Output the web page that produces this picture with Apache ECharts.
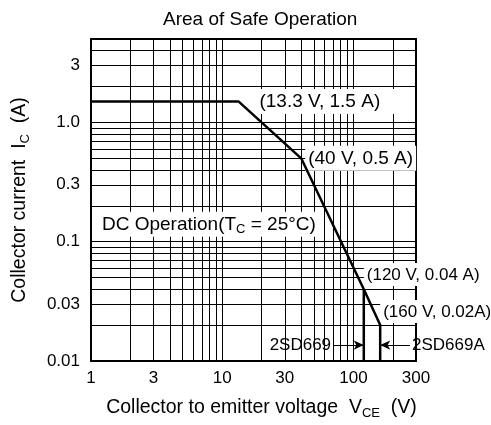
<!DOCTYPE html>
<html>
<head>
<meta charset="utf-8">
<script src="https://cdn.jsdelivr.net/npm/echarts@6/dist/echarts.min.js"></script>
<style>
  html, body { margin: 0; padding: 0; background: #fff; }
  #main { width: 491px; height: 425px; }
</style>
</head>
<body>
<div id="main"></div>
<script>
// SOA curve (DC, Tc = 25°C)
const voltage = [1, 13.3, 40, 120, 160, 160];
const current = [1.5, 1.5, 0.5, 0.04, 0.02, 0.01];
// 2SD669 limit at 120 V
const limitVoltage = [120, 120];
const limitCurrent = [0.04, 0.01];

// grid lines / labels
const xGridTicks = [1, 2, 3, 4, 5, 6, 7, 8, 9, 10, 20, 30, 40, 50, 60, 70, 80, 90, 100, 200, 300];
const yGridTicks = [0.01, 0.02, 0.03, 0.04, 0.05, 0.06, 0.07, 0.08, 0.09,
  0.1, 0.2, 0.3, 0.4, 0.5, 0.6, 0.7, 0.8, 0.9, 1, 2, 3, 4, 5];
const xLabels = [1, 3, 10, 30, 100, 300];
const yLabels = [0.01, 0.03, 0.1, 0.3, 1, 3];

const font = 'Liberation Sans, Arial, Helvetica, sans-serif';
const subStyle = { fontFamily: font, fontSize: 13, lineHeight: 13, verticalAlign: 'bottom' };

let myChart = echarts.init(document.getElementById('main'), null, { renderer: 'canvas' });

myChart.setOption({
  animation: false,
  backgroundColor: '#fff',
  textStyle: { fontFamily: font, color: '#000' },
  title: {
    text: 'Area of Safe Operation',
    left: 158,
    top: 5,
    textStyle: { fontFamily: font, fontSize: 19, fontWeight: 'normal', color: '#000' }
  },
  grid: {
    left: 90,
    right: 75,
    top: 39,
    bottom: 64,
    show: true,
    borderColor: '#000',
    borderWidth: 2
  },
  xAxis: {
    type: 'log',
    min: 1,
    max: 300,
    name: 'Collector to emitter voltage  V{sub|CE}  (V)',
    nameLocation: 'middle',
    nameGap: 35,
    nameTextStyle: {
      fontFamily: font, fontSize: 19.5, color: '#000', lineHeight: 24, padding: [0, 0, 0, 16],
      rich: { sub: subStyle }
    },
    axisLine: { show: false },
    axisTick: { show: false, customValues: xGridTicks },
    axisLabel: {
      customValues: xLabels,
      margin: 9,
      fontFamily: font, fontSize: 17, color: '#000',
      formatter: v => String(v)
    },
    splitLine: { show: true, lineStyle: { color: '#000', width: 1 } },
    minorSplitLine: { show: false }
  },
  yAxis: {
    type: 'log',
    min: 0.01,
    max: 5,
    name: 'Collector current  I{sub|C}  (A)',
    nameLocation: 'middle',
    nameGap: 59,
    nameTextStyle: {
      fontFamily: font, fontSize: 19.5, color: '#000', lineHeight: 24,
      rich: { sub: subStyle }
    },
    axisLine: { show: false },
    axisTick: { show: false, customValues: yGridTicks },
    axisLabel: {
      customValues: yLabels,
      margin: 11,
      fontFamily: font, fontSize: 17, color: '#000',
      formatter: v => (v === 1 ? '1.0' : String(v))
    },
    splitLine: { show: true, lineStyle: { color: '#000', width: 1 } },
    minorSplitLine: { show: false }
  },
  series: [
    {
      name: 'DC Operation',
      type: 'line',
      data: voltage.map((v, i) => [v, current[i]]),
      showSymbol: false,
      symbol: 'none',
      lineStyle: { color: '#000', width: 2.5 },
      z: 5,
      markPoint: {
        symbol: 'circle',
        symbolSize: 0,
        silent: true,
        label: {
          show: true,
          position: 'right',
          distance: 0,
          formatter: '{b}',
          fontFamily: font,
          fontSize: 19,
          color: '#000',
          backgroundColor: '#fff',
          padding: [2, 3, 1, 3],
          lineHeight: 22,
          rich: { sub: subStyle }
        },
        data: [
          { name: '(13.3 V, 1.5 A)', coord: [13.3, 1.5], label: { distance: 18, padding: [2, 16, 1, 3] } },
          { name: '(40 V, 0.5 A)', coord: [40, 0.5], label: { distance: 4 } },
          { name: 'DC Operation(T{sub|C} = 25°C)', coord: [1.15, 0.14] },
          { name: '(120 V, 0.04 A)', coord: [120, 0.053], label: { fontSize: 17, lineHeight: 20 } },
          { name: '(160 V, 0.02A)', coord: [160, 0.026], label: { fontSize: 17, lineHeight: 20 } }
        ]
      }
    },
    {
      name: '2SD669',
      type: 'line',
      data: limitVoltage.map((v, i) => [v, limitCurrent[i]]),
      showSymbol: false,
      symbol: 'none',
      lineStyle: { color: '#000', width: 2.5 },
      z: 5,
      markLine: {
        silent: true,
        symbol: ['none', 'arrow'],
        symbolSize: [7, 10],
        lineStyle: { color: '#000', width: 1, type: 'solid' },
        label: {
          show: true,
          position: 'start',
          distance: 2,
          formatter: '{b}',
          fontFamily: font,
          fontSize: 17,
          color: '#000'
        },
        data: [
          [{ name: '2SD669', coord: [70, 0.0136] }, { coord: [120, 0.0136] }],
          [{ name: '2SD669A', coord: [270, 0.0136] }, { coord: [160, 0.0136] }]
        ]
      }
    }
  ]
});
</script>
</body>
</html>
